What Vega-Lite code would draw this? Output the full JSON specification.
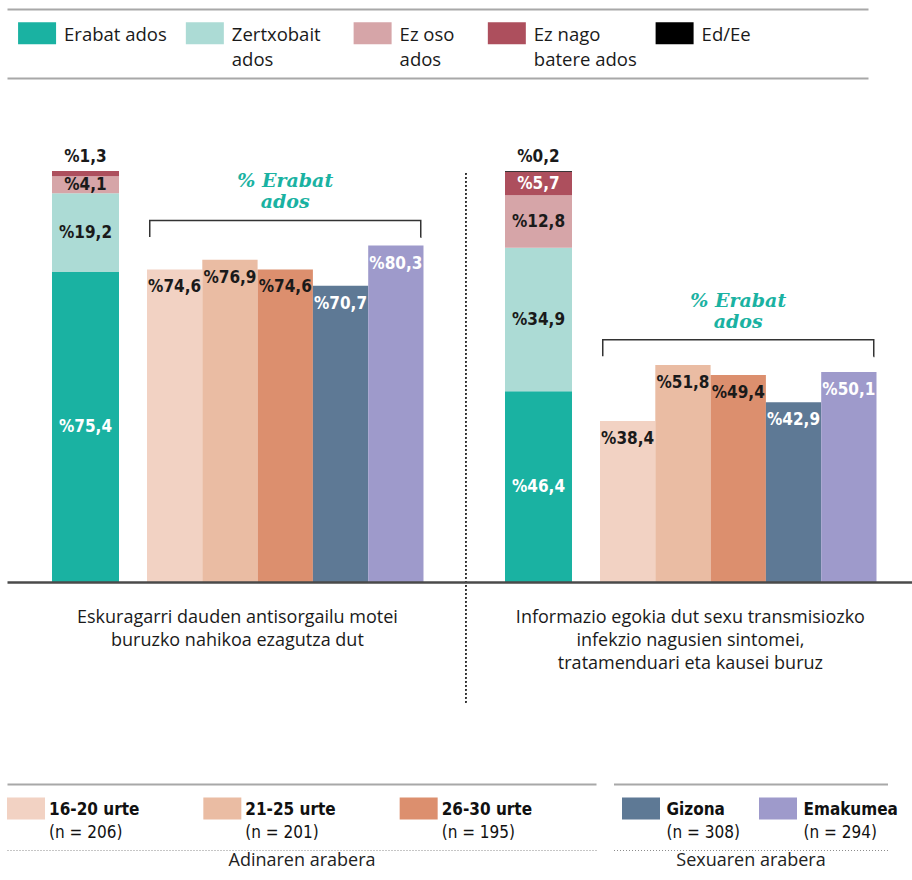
{
  "$schema": "https://vega.github.io/schema/vega-lite/v6.json",
  "padding": {"left": 7, "top": 9, "right": 0, "bottom": 0},
  "background": "white",
  "config": {"view": {"stroke": null}, "axis": {"grid": false}},
  "datasets": {
    "stack": [
      {"question": "Eskuragarri dauden antisorgailu motei\nburuzko nahikoa ezagutza dut", "response": "Erabat ados", "value": 75.4},
      {"question": "Eskuragarri dauden antisorgailu motei\nburuzko nahikoa ezagutza dut", "response": "Zertxobait ados", "value": 19.2},
      {"question": "Eskuragarri dauden antisorgailu motei\nburuzko nahikoa ezagutza dut", "response": "Ez oso ados", "value": 4.1},
      {"question": "Eskuragarri dauden antisorgailu motei\nburuzko nahikoa ezagutza dut", "response": "Ez nago batere ados", "value": 1.3},
      {"question": "Informazio egokia dut sexu transmisiozko\ninfekzio nagusien sintomei,\ntratamenduari eta kausei buruz", "response": "Erabat ados", "value": 46.4},
      {"question": "Informazio egokia dut sexu transmisiozko\ninfekzio nagusien sintomei,\ntratamenduari eta kausei buruz", "response": "Zertxobait ados", "value": 34.9},
      {"question": "Informazio egokia dut sexu transmisiozko\ninfekzio nagusien sintomei,\ntratamenduari eta kausei buruz", "response": "Ez oso ados", "value": 12.8},
      {"question": "Informazio egokia dut sexu transmisiozko\ninfekzio nagusien sintomei,\ntratamenduari eta kausei buruz", "response": "Ez nago batere ados", "value": 5.7},
      {"question": "Informazio egokia dut sexu transmisiozko\ninfekzio nagusien sintomei,\ntratamenduari eta kausei buruz", "response": "Ed/Ee", "value": 0.2}
    ],
    "groups": [
      {"question": "Eskuragarri dauden antisorgailu motei\nburuzko nahikoa ezagutza dut", "group": "16-20 urte", "value": 74.6},
      {"question": "Eskuragarri dauden antisorgailu motei\nburuzko nahikoa ezagutza dut", "group": "21-25 urte", "value": 76.9},
      {"question": "Eskuragarri dauden antisorgailu motei\nburuzko nahikoa ezagutza dut", "group": "26-30 urte", "value": 74.6},
      {"question": "Eskuragarri dauden antisorgailu motei\nburuzko nahikoa ezagutza dut", "group": "Gizona", "value": 70.7},
      {"question": "Eskuragarri dauden antisorgailu motei\nburuzko nahikoa ezagutza dut", "group": "Emakumea", "value": 80.3},
      {"question": "Informazio egokia dut sexu transmisiozko\ninfekzio nagusien sintomei,\ntratamenduari eta kausei buruz", "group": "16-20 urte", "value": 38.4},
      {"question": "Informazio egokia dut sexu transmisiozko\ninfekzio nagusien sintomei,\ntratamenduari eta kausei buruz", "group": "21-25 urte", "value": 51.8},
      {"question": "Informazio egokia dut sexu transmisiozko\ninfekzio nagusien sintomei,\ntratamenduari eta kausei buruz", "group": "26-30 urte", "value": 49.4},
      {"question": "Informazio egokia dut sexu transmisiozko\ninfekzio nagusien sintomei,\ntratamenduari eta kausei buruz", "group": "Gizona", "value": 42.9},
      {"question": "Informazio egokia dut sexu transmisiozko\ninfekzio nagusien sintomei,\ntratamenduari eta kausei buruz", "group": "Emakumea", "value": 50.1}
    ],
    "responses": [
      {"response": "Erabat ados", "label": "Erabat ados"},
      {"response": "Zertxobait ados", "label": "Zertxobait\nados"},
      {"response": "Ez oso ados", "label": "Ez oso\nados"},
      {"response": "Ez nago batere ados", "label": "Ez nago\nbatere ados"},
      {"response": "Ed/Ee", "label": "Ed/Ee"}
    ],
    "groupLegend": [
      {"group": "16-20 urte", "n": "(n = 206)", "by": "Adinaren arabera"},
      {"group": "21-25 urte", "n": "(n = 201)", "by": "Adinaren arabera"},
      {"group": "26-30 urte", "n": "(n = 195)", "by": "Adinaren arabera"},
      {"group": "Gizona", "n": "(n = 308)", "by": "Sexuaren arabera"},
      {"group": "Emakumea", "n": "(n = 294)", "by": "Sexuaren arabera"}
    ]
  },
  "spacing": 202,
  "bounds": "flush",
  "vconcat": [
    {
      "width": 861,
      "height": 69,
      "data": {"name": "responses"},
      "encoding": {
        "y": {"datum": 0, "type": "quantitative", "scale": {"domain": [-1, 1]}, "axis": null}
      },
      "layer": [
        {
          "mark": {"type": "point", "shape": "M-1,-0.579H1V0.579H-1Z", "size": 1444, "filled": true, "opacity": 1, "strokeWidth": 0, "xOffset": 19, "yOffset": -10.3},
          "encoding": {
            "x": {"field": "response", "type": "nominal", "sort": null, "bandPosition": 0,
                  "scale": {"type": "band", "paddingInner": 0, "paddingOuter": 0.33, "round": false,
                            "domain": ["Erabat ados", "_1", "_2", "_3", "_4", "Zertxobait ados", "_6", "_7", "_8", "_9", "Ez oso ados", "_11", "_12", "_13", "Ez nago batere ados", "_15", "_16", "_17", "_18", "Ed/Ee", "_20", "_21", "_22", "_23", "_24"]},
                  "axis": {"orient": "top", "domainColor": "#a8a8a8", "domainWidth": 2, "labels": false, "ticks": false, "title": null}},
            "color": {"field": "response", "type": "nominal",
                      "scale": {"domain": ["Erabat ados", "Zertxobait ados", "Ez oso ados", "Ez nago batere ados", "Ed/Ee"], "range": ["#1ab2a2", "#acdbd5", "#d6a5a8", "#ad4f5d", "#000000"]},
                      "legend": null}
          }
        },
        {
          "mark": {"type": "text", "align": "left", "baseline": "alphabetic", "dx": 46, "dy": -2.5, "lineBreak": "\n", "lineHeight": 25, "font": "Open Sans", "fontSize": 18.5, "color": "#1a1a1a"},
          "encoding": {
            "x": {"field": "response", "type": "nominal", "sort": null, "bandPosition": 0,
                  "scale": {"type": "band", "paddingInner": 0, "paddingOuter": 0.33, "round": false,
                            "domain": ["Erabat ados", "_1", "_2", "_3", "_4", "Zertxobait ados", "_6", "_7", "_8", "_9", "Ez oso ados", "_11", "_12", "_13", "Ez nago batere ados", "_15", "_16", "_17", "_18", "Ed/Ee", "_20", "_21", "_22", "_23", "_24"]},
                  "axis": {"orient": "bottom", "domainColor": "#a8a8a8", "domainWidth": 2, "labels": false, "ticks": false, "title": null}},
            "text": {"field": "label"}
          }
        }
      ],
      "resolve": {"scale": {"x": "independent"}, "axis": {"x": "independent"}}
    },
    {
      "width": 905,
      "height": 302,
      "layer": [
        {
          "data": {"name": "stack"},
          "transform": [
            {"calculate": "indexof(['Erabat ados', 'Zertxobait ados', 'Ez oso ados', 'Ez nago batere ados', 'Ed/Ee'], datum.response)", "as": "ord"},
            {"stack": "value", "groupby": ["question"], "sort": [{"field": "ord", "order": "ascending"}], "as": ["v0", "v1"]},
            {"calculate": "(datum.v0 + datum.v1) / 2", "as": "mid"},
            {"calculate": "'%' + replace(format(datum.value, '.1f'), '.', ',')", "as": "lbl"}
          ],
          "encoding": {
            "x": {"field": "question", "type": "nominal", "sort": null,
                  "scale": {"type": "band", "paddingInner": 0.8521, "paddingOuter": 0.42494, "align": 0.11688, "round": false},
                  "axis": null}
          },
          "layer": [
            {
              "mark": {"type": "bar"},
              "encoding": {
                "y": {"field": "v1", "type": "quantitative", "scale": {"domain": [0, 73.48], "nice": false, "zero": true}, "axis": null},
                "y2": {"field": "v0"},
                "color": {"field": "response", "type": "nominal",
                          "scale": {"domain": ["Erabat ados", "Zertxobait ados", "Ez oso ados", "Ez nago batere ados", "Ed/Ee"], "range": ["#1ab2a2", "#acdbd5", "#d6a5a8", "#ad4f5d", "#000000"]},
                          "legend": null}
              }
            },
            {
              "transform": [{"filter": "datum.value >= 2"}],
              "mark": {"type": "text", "font": "DejaVu Sans Condensed, Roboto, sans-serif", "fontSize": 17, "fontWeight": "bold", "baseline": "middle"},
              "encoding": {
                "y": {"field": "mid", "type": "quantitative"},
                "text": {"field": "lbl"},
                "color": {"condition": {"test": "datum.response == 'Erabat ados' || datum.response == 'Ez nago batere ados'", "value": "#ffffff"}, "value": "#1a1a1a"}
              }
            },
            {
              "transform": [{"filter": "datum.value > 0 && datum.value < 2"}],
              "mark": {"type": "text", "font": "DejaVu Sans Condensed, Roboto, sans-serif", "fontSize": 17, "fontWeight": "bold", "baseline": "bottom", "dy": -5, "color": "#1a1a1a"},
              "encoding": {
                "y": {"field": "v1", "type": "quantitative"},
                "text": {"field": "lbl"}
              }
            }
          ]
        },
        {
          "data": {"name": "groups"},
          "transform": [
            {"calculate": "'%' + replace(format(datum.value, '.1f'), '.', ',')", "as": "lbl"}
          ],
          "encoding": {
            "x": {"field": "question", "type": "nominal", "sort": null,
                  "scale": {"type": "band", "paddingInner": 0.38962, "paddingOuter": 0.193705, "align": 0.79772, "round": false},
                  "axis": {"orient": "bottom", "title": null, "ticks": false, "labels": false,
                           "domainColor": "#4a4a4a", "domainWidth": 2.5, "zindex": 1}}
          },
          "layer": [
            {
              "mark": {"type": "bar"},
              "encoding": {
                "xOffset": {"field": "group", "type": "nominal", "sort": null,
                            "scale": {"domain": ["16-20 urte", "21-25 urte", "26-30 urte", "Gizona", "Emakumea"], "paddingInner": 0, "paddingOuter": 0}},
                "y": {"field": "value", "type": "quantitative", "scale": {"domain": [0, 72.08], "nice": false, "zero": true}, "axis": null},
                "fill": {"field": "group", "type": "nominal",
                         "scale": {"domain": ["16-20 urte", "21-25 urte", "26-30 urte", "Gizona", "Emakumea"], "range": ["#f2d2c3", "#eabca3", "#dc8f6e", "#5e7995", "#9e9acb"]},
                         "legend": null}
              }
            },
            {
              "mark": {"type": "text", "font": "DejaVu Sans Condensed, Roboto, sans-serif", "fontSize": 17, "fontWeight": "bold", "baseline": "middle", "dy": 18},
              "encoding": {
                "xOffset": {"field": "group", "type": "nominal", "sort": null,
                            "scale": {"domain": ["16-20 urte", "21-25 urte", "26-30 urte", "Gizona", "Emakumea"], "paddingInner": 0, "paddingOuter": 0}},
                "y": {"field": "value", "type": "quantitative"},
                "text": {"field": "lbl"},
                "color": {"condition": {"test": "datum.group == 'Gizona' || datum.group == 'Emakumea'", "value": "#ffffff"}, "value": "#1a1a1a"}
              }
            },
            {
              "transform": [
                {"aggregate": [{"op": "max", "field": "value", "as": "mx"}], "groupby": ["question"]},
                {"calculate": "datum.mx + 6", "as": "lvl"},
                {"calculate": "datum.lvl - 4", "as": "lvl2"}
              ],
              "mark": {"type": "bar", "width": 271, "filled": false, "color": "#333333", "strokeWidth": 1.5, "strokeDash": [288, 271, 17]},
              "encoding": {
                "y": {"field": "lvl", "type": "quantitative"},
                "y2": {"field": "lvl2"}
              }
            },
            {
              "transform": [
                {"aggregate": [{"op": "max", "field": "value", "as": "mx"}], "groupby": ["question"]},
                {"calculate": "datum.mx + 6", "as": "lvl"}
              ],
              "mark": {"type": "text", "font": "DejaVu Serif", "fontStyle": "italic", "fontWeight": "bold", "fontSize": 19, "color": "#1ab2a2", "align": "center", "baseline": "bottom", "dy": -29, "lineBreak": "\n", "lineHeight": 21},
              "encoding": {
                "y": {"field": "lvl", "type": "quantitative"},
                "text": {"value": "% Erabat\nados"}
              }
            },
            {
              "transform": [
                {"aggregate": [{"op": "count", "as": "k"}], "groupby": ["question"]}
              ],
              "mark": {"type": "text", "font": "Open Sans", "fontSize": 18, "color": "#1a1a1a", "align": "center", "baseline": "top", "dy": 27, "lineBreak": "\n", "lineHeight": 23},
              "encoding": {
                "x": {"field": "question", "type": "nominal", "sort": null, "bandPosition": 0.327},
                "y": {"datum": 0, "type": "quantitative"},
                "text": {"field": "question"}
              }
            },
            {
              "mark": {"type": "rule", "color": "#333333", "strokeWidth": 1.2, "strokeDash": [1.5, 2.5]},
              "encoding": {
                "x": {"datum": "Eskuragarri dauden antisorgailu motei\nburuzko nahikoa ezagutza dut", "type": "nominal", "bandPosition": 1.1526},
                "y": {"datum": 97.6, "type": "quantitative"},
                "y2": {"datum": -28.9}
              }
            }
          ]
        }
      ],
      "resolve": {"scale": {"x": "independent", "y": "independent"}, "axis": {"x": "independent", "y": "independent"}}
    },
    {
      "hconcat": [
        {
          "width": 589,
          "height": 66,
          "data": {"name": "groupLegend"},
          "transform": [{"filter": "datum.by == 'Adinaren arabera'"}],
          "encoding": {
            "y": {"datum": 0, "type": "quantitative", "scale": {"domain": [-1, 1]}, "axis": null}
          },
          "layer": [
            {
              "mark": {"type": "point", "shape": "M-1,-0.579H1V0.579H-1Z", "size": 1444, "filled": true, "opacity": 1, "strokeWidth": 0, "xOffset": 19, "yOffset": -8.5},
              "encoding": {
                "x": {"field": "group", "type": "nominal", "sort": null, "bandPosition": 0,
                      "scale": {"type": "band", "paddingInner": 0, "paddingOuter": 0, "round": false},
                      "axis": {"orient": "top", "domainColor": "#a8a8a8", "domainWidth": 2, "labels": false, "ticks": false, "title": null}},
                "fill": {"field": "group", "type": "nominal",
                         "scale": {"domain": ["16-20 urte", "21-25 urte", "26-30 urte", "Gizona", "Emakumea"], "range": ["#f2d2c3", "#eabca3", "#dc8f6e", "#5e7995", "#9e9acb"]},
                         "legend": null}
              }
            },
            {
              "mark": {"type": "text", "align": "left", "baseline": "middle", "dx": 42, "dy": -7, "font": "DejaVu Sans Condensed, Roboto, sans-serif", "fontSize": 17, "fontWeight": "bold", "color": "#111111"},
              "encoding": {
                "x": {"field": "group", "type": "nominal", "sort": null, "bandPosition": 0,
                      "scale": {"type": "band", "paddingInner": 0, "paddingOuter": 0, "round": false}, "axis": null},
                "text": {"field": "group"}
              }
            },
            {
              "mark": {"type": "text", "align": "left", "baseline": "middle", "dx": 42, "dy": 15.5, "font": "DejaVu Sans Condensed, Roboto, sans-serif", "fontSize": 17, "color": "#111111"},
              "encoding": {
                "x": {"field": "group", "type": "nominal", "sort": null, "bandPosition": 0,
                      "scale": {"type": "band", "paddingInner": 0, "paddingOuter": 0, "round": false},
                      "axis": {"orient": "bottom", "domainColor": "#8c8c8c", "domainWidth": 1, "domainDash": [1, 2], "labels": false, "ticks": false,
                               "title": "Adinaren arabera", "titleFont": "Open Sans", "titleFontSize": 18, "titleFontWeight": "normal", "titleColor": "#222222", "titlePadding": 1}},
                "text": {"field": "n"}
              }
            }
          ],
          "resolve": {"scale": {"x": "independent"}, "axis": {"x": "independent"}}
        },
        {
          "width": 274,
          "height": 66,
          "data": {"name": "groupLegend"},
          "transform": [{"filter": "datum.by == 'Sexuaren arabera'"}],
          "encoding": {
            "y": {"datum": 0, "type": "quantitative", "scale": {"domain": [-1, 1]}, "axis": null}
          },
          "layer": [
            {
              "mark": {"type": "point", "shape": "M-1,-0.579H1V0.579H-1Z", "size": 1444, "filled": true, "opacity": 1, "strokeWidth": 0, "xOffset": 27.5, "yOffset": -8.5},
              "encoding": {
                "x": {"field": "group", "type": "nominal", "sort": null, "bandPosition": 0,
                      "scale": {"type": "band", "paddingInner": 0, "paddingOuter": 0, "round": false},
                      "axis": {"orient": "top", "domainColor": "#a8a8a8", "domainWidth": 2, "labels": false, "ticks": false, "title": null}},
                "fill": {"field": "group", "type": "nominal",
                         "scale": {"domain": ["16-20 urte", "21-25 urte", "26-30 urte", "Gizona", "Emakumea"], "range": ["#f2d2c3", "#eabca3", "#dc8f6e", "#5e7995", "#9e9acb"]},
                         "legend": null}
              }
            },
            {
              "mark": {"type": "text", "align": "left", "baseline": "middle", "dx": 53, "dy": -7, "font": "DejaVu Sans Condensed, Roboto, sans-serif", "fontSize": 17, "fontWeight": "bold", "color": "#111111"},
              "encoding": {
                "x": {"field": "group", "type": "nominal", "sort": null, "bandPosition": 0,
                      "scale": {"type": "band", "paddingInner": 0, "paddingOuter": 0, "round": false}, "axis": null},
                "text": {"field": "group"}
              }
            },
            {
              "mark": {"type": "text", "align": "left", "baseline": "middle", "dx": 53, "dy": 15.5, "font": "DejaVu Sans Condensed, Roboto, sans-serif", "fontSize": 17, "color": "#111111"},
              "encoding": {
                "x": {"field": "group", "type": "nominal", "sort": null, "bandPosition": 0,
                      "scale": {"type": "band", "paddingInner": 0, "paddingOuter": 0, "round": false},
                      "axis": {"orient": "bottom", "domainColor": "#8c8c8c", "domainWidth": 1, "domainDash": [1, 2], "labels": false, "ticks": false,
                               "title": "Sexuaren arabera", "titleFont": "Open Sans", "titleFontSize": 18, "titleFontWeight": "normal", "titleColor": "#222222", "titlePadding": 1}},
                "text": {"field": "n"}
              }
            }
          ],
          "resolve": {"scale": {"x": "independent"}, "axis": {"x": "independent"}}
        }
      ],
      "spacing": 17.5,
      "bounds": "flush"
    }
  ]
}
